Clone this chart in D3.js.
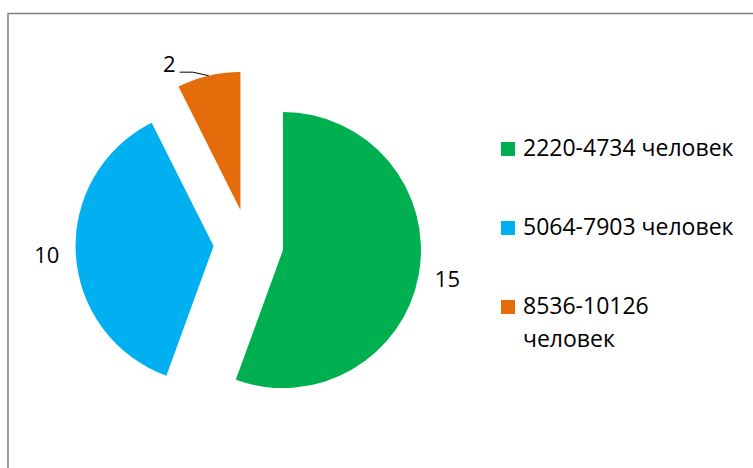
<!DOCTYPE html>
<html>
<head>
<meta charset="utf-8">
<script src="https://cdn.jsdelivr.net/npm/d3@7"></script>
<style>
  body { margin: 0; background: #fff; }
  text { font-family: "Open Sans", sans-serif; fill: #000; }
</style>
</head>
<body>
<div id="container"></div>
<script>
(function () {
  var width = 753,
      height = 468;

  // data
  var categories = ["2220-4734 человек", "5064-7903 человек", "8536-10126 человек"];
  var values = [15, 10, 2];
  var colors = ["#00B050", "#00B0F0", "#E46C0A"];
  // legend lines (third entry wraps)
  var legendLines = [["2220-4734 человек"], ["5064-7903 человек"], ["8536-10126", "человек"]];

  var svg = d3.select("#container").append("svg")
      .attr("width", width).attr("height", height);

  // chart frame
  svg.append("rect")
      .attr("x", 8).attr("y", 13.5)
      .attr("width", width + 10).attr("height", height + 10)
      .attr("fill", "none").attr("stroke", "#868686").attr("stroke-width", 1.6);

  var cx = 248.5, cy = 244, radius = 138, explode = 35;

  var pie = d3.pie().sort(null).value(function (d) { return d; });
  var arcs = pie(values);
  var arc = d3.arc().innerRadius(0).outerRadius(radius);

  function offset(d, r) {
    var a = (d.startAngle + d.endAngle) / 2;
    return [Math.sin(a) * r, -Math.cos(a) * r];
  }

  var g = svg.append("g").attr("transform", "translate(" + cx + "," + cy + ")");

  var slice = g.selectAll(".slice").data(arcs).enter().append("g")
      .attr("class", "slice")
      .attr("transform", function (d) {
        var o = offset(d, explode);
        return "translate(" + o[0] + "," + o[1] + ")";
      });

  slice.append("path")
      .attr("d", arc)
      .style("fill", function (d, i) { return colors[i]; });

  // data labels
  slice.each(function (d, i) {
    var sel = d3.select(this);
    if (d.value >= 5) {
      var p = offset(d, 167);
      sel.append("text")
          .attr("x", p[0]).attr("y", p[1])
          .attr("dy", "0.35em")
          .attr("text-anchor", "middle")
          .style("font-size", "22px")
          .text(d.value);
    } else {
      // small slice: label pulled out with a leader line
      var e = offset(d, radius);
      var k = [e[0] - 16, e[1] - 3.5];
      var s = [k[0] - 13, k[1]];
      sel.append("path")
          .attr("d", "M" + e + "L" + k + "L" + s)
          .attr("fill", "none").attr("stroke", "#000").attr("stroke-width", 1);
      sel.append("text")
          .attr("x", s[0] - 4).attr("y", s[1])
          .attr("text-anchor", "end")
          .style("font-size", "22px")
          .text(d.value);
    }
  });

  // legend
  var legend = svg.selectAll(".legend").data(categories).enter().append("g")
      .attr("class", "legend")
      .attr("transform", function (d, i) { return "translate(501," + (142 + i * 79) + ")"; });

  legend.append("rect")
      .attr("width", 14).attr("height", 14)
      .style("fill", function (d, i) { return colors[i]; });

  legend.append("text")
      .attr("x", 22).attr("y", 14)
      .style("font-size", "23px")
      .selectAll("tspan").data(function (d, i) { return legendLines[i]; }).enter().append("tspan")
      .attr("x", 22)
      .attr("dy", function (d, j) { return j === 0 ? 0 : 33; })
      .text(function (d) { return d; });
})();
</script>
</body>
</html>
